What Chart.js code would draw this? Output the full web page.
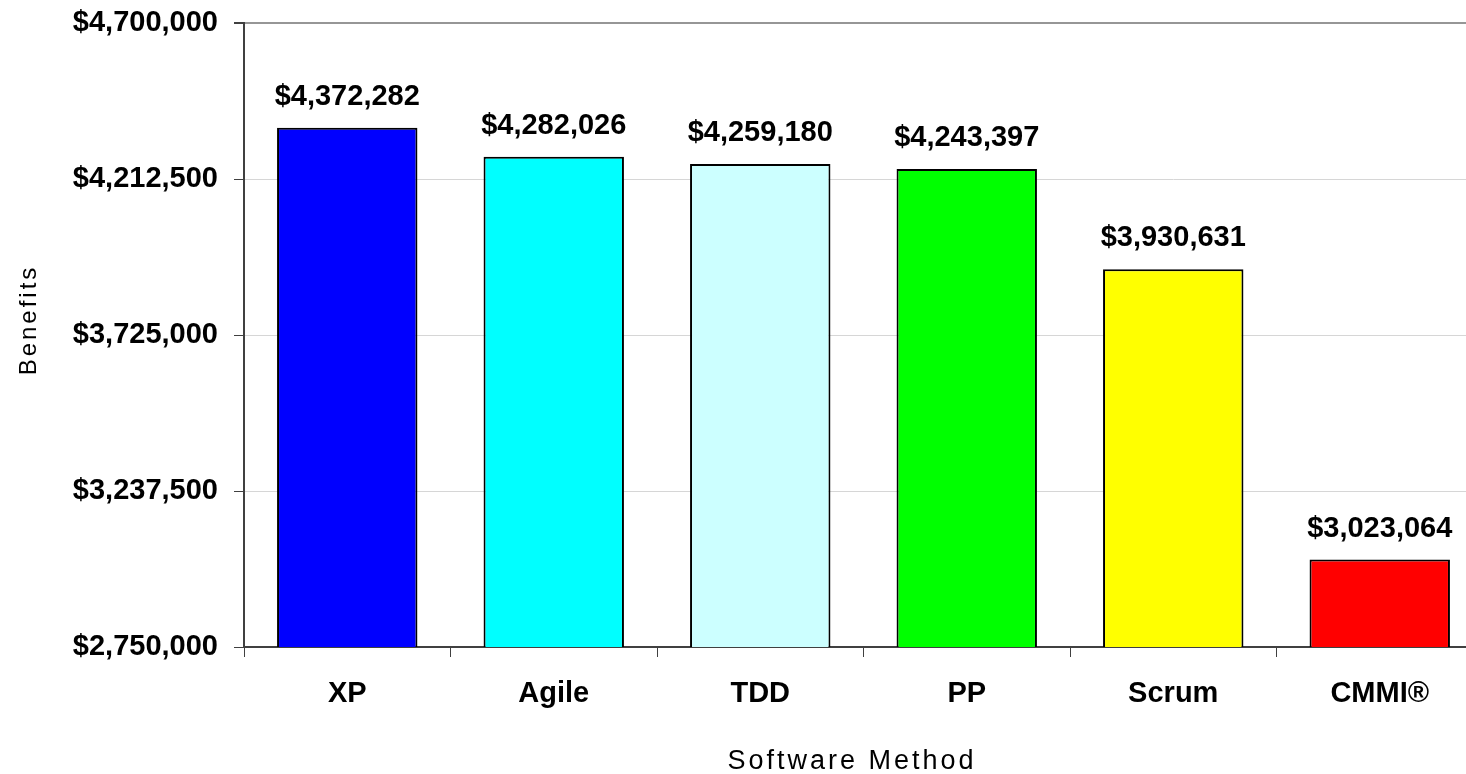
<!DOCTYPE html>
<html>
<head>
<meta charset="utf-8">
<title>Benefits by Software Method</title>
<script src="https://cdn.jsdelivr.net/npm/chart.js@4.4.1/dist/chart.umd.min.js"></script>
<style>
  html, body { margin: 0; padding: 0; background: #ffffff; overflow: hidden; }
  canvas { display: block; }
</style>
</head>
<body>
<canvas id="chart" width="1484" height="774" style="width:1484px;height:774px"></canvas>
<script>
// Benefits per software method
const categories = ['XP', 'Agile', 'TDD', 'PP', 'Scrum', 'CMMI\u00AE'];
const benefits = [4372282, 4282026, 4259180, 4243397, 3930631, 3023064];
const barColors = ['#0000ff', '#00ffff', '#ccffff', '#00ff00', '#ffff00', '#ff0000'];
const yTickValues = [2750000, 3237500, 3725000, 4212500, 4700000];
const xTitle = 'Software Method';
const yTitle = 'Benefits';

const FONT = "'Liberation Sans', Arial, sans-serif";
const money = v => '$' + Math.round(v).toLocaleString('en-US');

// Value labels above each bar and spaced-out axis titles
const annotate = {
  id: 'annotate',
  afterDatasetsDraw(chart) {
    const ctx = chart.ctx;
    const meta = chart.getDatasetMeta(0);
    ctx.save();
    ctx.fillStyle = '#000000';
    ctx.font = 'bold 29px ' + FONT;
    ctx.textAlign = 'center';
    ctx.textBaseline = 'alphabetic';
    meta.data.forEach((bar, i) => {
      ctx.fillText(money(benefits[i]), bar.x, bar.y - 23);
    });
    ctx.restore();
  },
  afterDraw(chart) {
    const ctx = chart.ctx;
    ctx.save();
    ctx.fillStyle = '#000000';
    ctx.textAlign = 'center';
    ctx.textBaseline = 'alphabetic';
    if ('letterSpacing' in ctx) ctx.letterSpacing = '3px';
    ctx.font = '27px ' + FONT;
    ctx.fillText(xTitle, 852, 769);
    ctx.translate(36, 320);
    ctx.rotate(-Math.PI / 2);
    ctx.font = '24px ' + FONT;
    ctx.fillText(yTitle, 0, 0);
    ctx.restore();
  }
};

new Chart(document.getElementById('chart'), {
  type: 'bar',
  data: {
    labels: categories,
    datasets: [{
      data: benefits,
      backgroundColor: barColors,
      borderColor: '#000000',
      borderWidth: 2,
      borderSkipped: false,
      barPercentage: 0.68,
      categoryPercentage: 1.0
    }]
  },
  options: {
    responsive: false,
    devicePixelRatio: 1,
    animation: false,
    layout: { padding: { top: 23, right: 1, bottom: 0, left: 0 } },
    plugins: {
      legend: { display: false },
      tooltip: { enabled: false },
      title: { display: false }
    },
    scales: {
      x: {
        offset: true,
        afterFit(s) { s.height = 127; s.paddingLeft = 0; s.paddingRight = 0; },
        border: { display: true, color: '#404040', width: 2 },
        grid: {
          display: true,
          offset: true,
          drawOnChartArea: false,
          drawTicks: true,
          tickLength: 10,
          tickColor: '#404040',
          tickWidth: 1
        },
        ticks: {
          color: '#000000',
          font: { family: FONT, size: 29, weight: 'bold' },
          padding: 20,
          maxRotation: 0,
          autoSkip: false
        }
      },
      y: {
        min: yTickValues[0],
        max: yTickValues[yTickValues.length - 1],
        afterFit(s) { s.width = 244; s.paddingTop = 0; s.paddingBottom = 0; },
        afterBuildTicks(s) { s.ticks = yTickValues.map(v => ({ value: v })); },
        border: { display: true, color: '#404040', width: 2 },
        grid: {
          drawTicks: true,
          tickLength: 10,
          tickColor: '#404040',
          color: c => (c.tick && c.tick.value === 4700000) ? '#969696' : '#d6d6d6',
          lineWidth: c => (c.tick && c.tick.value === 4700000) ? 2 : 1
        },
        ticks: {
          color: '#000000',
          font: { family: FONT, size: 29, weight: 'bold' },
          padding: 16,
          callback: v => money(v)
        }
      }
    }
  },
  plugins: [annotate]
});
</script>
</body>
</html>
